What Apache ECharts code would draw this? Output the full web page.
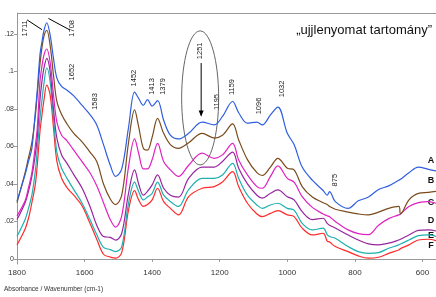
<!DOCTYPE html>
<html>
<head>
<meta charset="utf-8">
<script src="https://cdn.jsdelivr.net/npm/echarts@6/dist/echarts.min.js"></script>
<style>
  html, body { margin: 0; padding: 0; background: #fff; }
  #chart { width: 436px; height: 297px; }
</style>
</head>
<body>
<div id="chart"></div>
<script>
// wavenumber grid (cm-1), shared by all spectra
const wavenumbers = [1800, 1776, 1766, 1756, 1746, 1740, 1732, 1726, 1720, 1712, 1702, 1692, 1682, 1668, 1652, 1632, 1608, 1584, 1564, 1544, 1524, 1508, 1490, 1470, 1452, 1440, 1426, 1414, 1400, 1384, 1366, 1346, 1322, 1292, 1252, 1216, 1192, 1162, 1144, 1118, 1090, 1074, 1050, 1028, 1000, 980, 956, 926, 894, 882, 875, 858, 820, 790, 760, 730, 700, 670, 665, 640, 612, 582, 560];

const specA = [0.031, 0.045, 0.052, 0.059, 0.078, 0.090, 0.109, 0.116, 0.122, 0.126, 0.1195, 0.107, 0.0965, 0.092, 0.090, 0.087, 0.082, 0.077, 0.0715, 0.061, 0.050, 0.044, 0.048, 0.070, 0.089, 0.0857, 0.082, 0.085, 0.0816, 0.0845, 0.074, 0.066, 0.064, 0.067, 0.073, 0.0715, 0.076, 0.084, 0.078, 0.0724, 0.073, 0.0715, 0.0768, 0.081, 0.067, 0.061, 0.049, 0.042, 0.0365, 0.034, 0.0359, 0.0306, 0.027, 0.031, 0.033, 0.037, 0.039, 0.042, 0.0425, 0.046, 0.049, 0.0478, 0.047];
const specB = [0.030, 0.046, 0.054, 0.062, 0.076, 0.088, 0.104, 0.113, 0.119, 0.122, 0.114, 0.098, 0.084, 0.077, 0.072, 0.067, 0.0626, 0.057, 0.052, 0.040, 0.032, 0.029, 0.034, 0.062, 0.0795, 0.0706, 0.059, 0.058, 0.065, 0.075, 0.067, 0.061, 0.059, 0.062, 0.067, 0.0645, 0.066, 0.072, 0.0635, 0.053, 0.046, 0.0445, 0.049, 0.0537, 0.0484, 0.0475, 0.0386, 0.033, 0.030, 0.029, 0.028, 0.0265, 0.025, 0.024, 0.0235, 0.025, 0.027, 0.028, 0.024, 0.0315, 0.035, 0.0355, 0.036];
const specC = [0.023, 0.031, 0.038, 0.046, 0.060, 0.070, 0.0946, 0.103, 0.109, 0.112, 0.105, 0.0875, 0.073, 0.066, 0.063, 0.058, 0.052, 0.046, 0.039, 0.030, 0.021, 0.017, 0.023, 0.049, 0.064, 0.0564, 0.048, 0.048, 0.053, 0.0617, 0.052, 0.0475, 0.044, 0.050, 0.0564, 0.0537, 0.0555, 0.0617, 0.0528, 0.0448, 0.0386, 0.0377, 0.044, 0.0496, 0.043, 0.041, 0.0332, 0.0275, 0.024, 0.023, 0.0225, 0.020, 0.0155, 0.0135, 0.013, 0.018, 0.0215, 0.0235, 0.024, 0.028, 0.030, 0.0306, 0.0297];
const specD = [0.021, 0.030, 0.036, 0.044, 0.0555, 0.065, 0.085, 0.095, 0.102, 0.107, 0.100, 0.080, 0.0644, 0.0555, 0.051, 0.045, 0.038, 0.028, 0.018, 0.012, 0.0115, 0.010, 0.0137, 0.035, 0.0475, 0.040, 0.034, 0.036, 0.0395, 0.0448, 0.0377, 0.034, 0.033, 0.043, 0.049, 0.049, 0.052, 0.057, 0.0484, 0.040, 0.034, 0.0324, 0.035, 0.0368, 0.0332, 0.0315, 0.0252, 0.021, 0.0217, 0.019, 0.018, 0.0165, 0.0128, 0.0101, 0.008, 0.0075, 0.0084, 0.0101, 0.0105, 0.0128, 0.0152, 0.0155, 0.0149];
const specE = [0.012, 0.021, 0.027, 0.034, 0.0466, 0.058, 0.075, 0.085, 0.094, 0.102, 0.0946, 0.075, 0.057, 0.0484, 0.043, 0.037, 0.030, 0.021, 0.013, 0.0062, 0.005, 0.0039, 0.0066, 0.0297, 0.041, 0.036, 0.0315, 0.033, 0.035, 0.041, 0.034, 0.0306, 0.028, 0.037, 0.043, 0.043, 0.0448, 0.051, 0.043, 0.034, 0.0288, 0.027, 0.0288, 0.0297, 0.027, 0.026, 0.019, 0.0155, 0.0164, 0.013, 0.012, 0.011, 0.0066, 0.0039, 0.003, 0.0034, 0.0057, 0.0075, 0.008, 0.0101, 0.0124, 0.0128, 0.012];
const specF = [0.0075, 0.016, 0.0217, 0.030, 0.0395, 0.050, 0.068, 0.077, 0.085, 0.0928, 0.0875, 0.070, 0.052, 0.043, 0.038, 0.034, 0.0285, 0.019, 0.0105, 0.0025, 0.001, 0.0004, 0.0035, 0.026, 0.0364, 0.0315, 0.028, 0.029, 0.0315, 0.0377, 0.0306, 0.027, 0.0235, 0.0332, 0.0377, 0.0386, 0.041, 0.0466, 0.0386, 0.0297, 0.024, 0.0226, 0.0243, 0.0258, 0.0235, 0.0226, 0.0164, 0.0128, 0.0137, 0.0095, 0.009, 0.0066, 0.0039, 0.0016, 0.0004, 0.0009, 0.003, 0.0048, 0.0055, 0.0075, 0.0101, 0.0105, 0.0098];

const seriesNames = ['A', 'B', 'C', 'D', 'E', 'F'];
const xTicks = [1800, 1600, 1400, 1200, 1000, 800, 600];
const yTicks = [0, 0.02, 0.04, 0.06, 0.08, 0.1, 0.12];

// peak annotations: text, anchor wavenumber, anchor absorbance
const peakText = ['1711', '1708', '1652', '1583', '1452', '1413', '1379', '1251', '1195', '1159', '1096', '1032', '875'];
const peakWn = [1776, 1637, 1638, 1569, 1453, 1401, 1367, 1258, 1207, 1164, 1085, 1015, 859];
const peakAbs = [0.123, 0.123, 0.0997, 0.084, 0.0965, 0.092, 0.092, 0.111, 0.0837, 0.0917, 0.0816, 0.0907, 0.042];

const colors = ['#2f5fe0', '#7a4b1c', '#e022c0', '#96259f', '#1fb0b0', '#ff2b2b'];
const spectra = [specA, specB, specC, specD, specE, specF];

const chart = echarts.init(document.getElementById('chart'), null, { renderer: 'canvas' });

chart.setOption({
  animation: false,
  backgroundColor: '#fff',
  grid: { left: 17, right: 0, top: 13, bottom: 33 },
  xAxis: {
    type: 'value',
    inverse: true,
    min: 560,
    max: 1800,
    axisLine: { lineStyle: { color: '#999', width: 1 } },
    axisTick: { show: true, length: 3, customValues: xTicks, lineStyle: { color: '#999' } },
    axisLabel: { customValues: xTicks, color: '#333', fontSize: 8, fontFamily: 'Liberation Sans', margin: 5, formatter: (v) => String(v) },
    splitLine: { show: false }
  },
  yAxis: {
    type: 'value',
    min: -0.0027,
    max: 0.1312,
    axisLine: { show: true, lineStyle: { color: '#999', width: 1 } },
    axisTick: { show: true, length: 3, customValues: yTicks, lineStyle: { color: '#999' } },
    axisLabel: {
      customValues: yTicks,
      color: '#333',
      fontSize: 7,
      fontFamily: 'Liberation Sans',
      margin: 3,
      formatter: (v) => (v === 0 ? '0' : String(+v.toFixed(2)).replace(/^0/, ''))
    },
    splitLine: { show: false }
  },
  series: spectra.map((s, i) => ({
    name: seriesNames[i],
    type: 'line',
    data: wavenumbers.map((w, j) => [w, s[j]]),
    showSymbol: false,
    smooth: 0.35,
    lineStyle: { width: 1.2, color: colors[i] },
    itemStyle: { color: colors[i] },
    z: 10 - i
  }))
});

// decorations placed from data coordinates
const px = (wn, a) => chart.convertToPixel({ gridIndex: 0 }, [wn, a]);
const gr = [];

// top frame line
gr.push({ type: 'line', shape: { x1: 17, y1: 13.5, x2: 436, y2: 13.5 }, style: { stroke: '#999', lineWidth: 1 } });

peakText.forEach((t, i) => {
  const p = px(peakWn[i], peakAbs[i]);
  gr.push({
    type: 'text', x: p[0], y: p[1], rotation: Math.PI / 2,
    style: { text: t, fontSize: 7.5, fontFamily: 'Liberation Sans', fill: '#222', align: 'center', verticalAlign: 'middle' }
  });
});

// leader lines for 1711 / 1708
const l1a = px(1770, 0.1275), l1b = px(1726, 0.1223);
const l2a = px(1707, 0.1283), l2b = px(1643, 0.1221);
gr.push({ type: 'line', shape: { x1: l1a[0], y1: l1a[1], x2: l1b[0], y2: l1b[1] }, style: { stroke: '#000', lineWidth: 1 } });
gr.push({ type: 'line', shape: { x1: l2a[0], y1: l2a[1], x2: l2b[0], y2: l2b[1] }, style: { stroke: '#000', lineWidth: 1 } });

// ellipse around the 1251 band
const ec = px(1258, 0.0859);
gr.push({ type: 'ellipse', shape: { cx: ec[0], cy: ec[1], rx: 18.5, ry: 67 }, style: { stroke: '#555', fill: null, lineWidth: 0.9 } });

// arrow
const a1 = px(1255, 0.1045), a2 = px(1255, 0.0765);
gr.push({ type: 'line', shape: { x1: a1[0], y1: a1[1], x2: a2[0], y2: a2[1] }, style: { stroke: '#000', lineWidth: 1 } });
gr.push({ type: 'polygon', shape: { points: [[a2[0] - 2.5, a2[1] - 5], [a2[0] + 2.5, a2[1] - 5], [a2[0], a2[1] + 1]] }, style: { fill: '#000' } });

// region title
gr.push({ type: 'text', x: 432, y: 30, style: { text: '\u201Eujjlenyomat tartomány\u201D', fontSize: 13, fontFamily: 'Liberation Sans', fill: '#111', align: 'right', verticalAlign: 'middle' } });

// series letters
const letterY = [161, 181, 203, 221, 236, 246];
seriesNames.forEach((n, i) => {
  gr.push({ type: 'text', x: 431, y: letterY[i], style: { text: n, fontSize: 9, fontWeight: 'bold', fontFamily: 'Liberation Sans', fill: '#111', align: 'center', verticalAlign: 'middle' } });
});

// axis caption
gr.push({ type: 'text', x: 4, y: 289, style: { text: 'Absorbance / Wavenumber (cm-1)', fontSize: 6.5, fontFamily: 'Liberation Sans', fill: '#333', align: 'left', verticalAlign: 'middle' } });

chart.setOption({ graphic: gr });
</script>
</body>
</html>
